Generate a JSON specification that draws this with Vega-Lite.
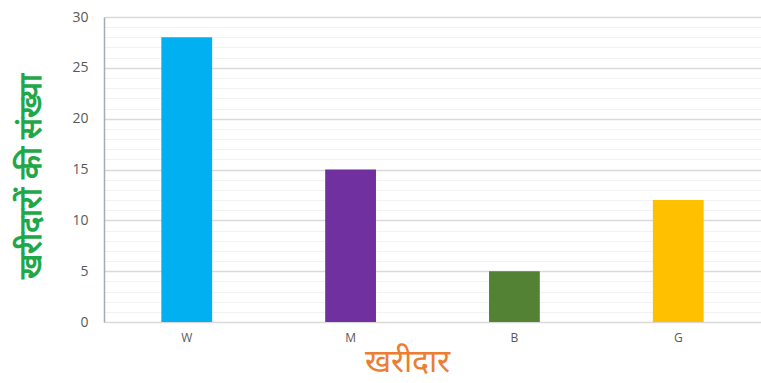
{
  "$schema": "https://vega.github.io/schema/vega-lite/v6.json",
  "autosize": {"type": "none"},
  "width": 657,
  "height": 305,
  "padding": {"left": 104, "top": 17, "right": 0, "bottom": 61},
  "background": "white",
  "config": {"view": {"stroke": null}, "font": "Open Sans"},
  "data": {
    "values": [
      {"buyer": "W", "count": 28},
      {"buyer": "M", "count": 15},
      {"buyer": "B", "count": 5},
      {"buyer": "G", "count": 12}
    ]
  },
  "mark": {"type": "bar"},
  "encoding": {
    "x": {
      "field": "buyer",
      "type": "nominal",
      "sort": ["W", "M", "B", "G"],
      "scale": {"paddingInner": 0.69, "paddingOuter": 0.35},
      "axis": {
        "title": "खरीदार",
        "titleColor": "#ED7D31",
        "titleFontSize": 32,
        "titleFontWeight": "normal",
        "titleAnchor": "start",
        "titleAlign": "center",
        "titleX": 303,
        "titleY": 39,
        "titleBaseline": "middle",
        "labelAngle": 0,
        "labelColor": "#595959",
        "labelFontSize": 12,
        "labelPadding": 10,
        "ticks": false,
        "domainColor": "#d9d9d9",
        "grid": false
      }
    },
    "y": {
      "field": "count",
      "type": "quantitative",
      "scale": {"domain": [0, 30], "nice": false},
      "axis": {
        "title": "खरीदारों की संख्या",
        "titleColor": "#1FA84A",
        "titleFontSize": 31,
        "titleFontWeight": "bold",
        "titleAngle": -90,
        "titleX": -73,
        "titleY": 159,
        "titleAlign": "center",
        "titleBaseline": "middle",
        "values": [0,1,2,3,4,5,6,7,8,9,10,11,12,13,14,15,16,17,18,19,20,21,22,23,24,25,26,27,28,29,30],
        "labelExpr": "datum.value % 5 === 0 ? datum.label : ''",
        "labelColor": "#595959",
        "labelFontSize": 14,
        "labelPadding": 16,
        "ticks": false,
        "domainColor": "#A3ABBD",
        "domainWidth": 1.5,
        "grid": true,
        "gridColor": {"condition": {"test": "datum.value % 5 === 0", "value": "#D9D9D9"}, "value": "#F2F2F2"},
        "gridWidth": {"condition": {"test": "datum.value % 5 === 0", "value": 1.5}, "value": 1}
      }
    },
    "color": {
      "field": "buyer",
      "type": "nominal",
      "scale": {"domain": ["W", "M", "B", "G"], "range": ["#00B0F0", "#7030A0", "#548235", "#FFC000"]},
      "legend": null
    }
  }
}
